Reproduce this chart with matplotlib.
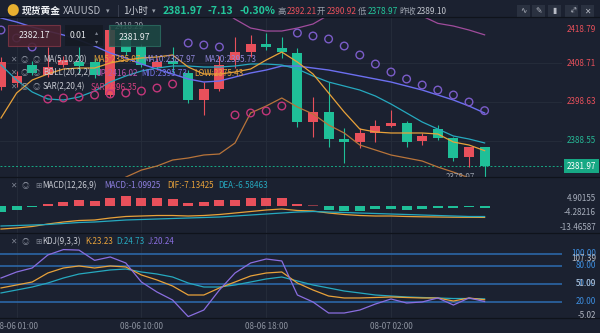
import matplotlib
matplotlib.use("Agg")
import matplotlib.pyplot as plt
import matplotlib.transforms as mtransforms
from matplotlib.patches import Rectangle
from matplotlib.lines import Line2D

plt.rcParams['font.family'] = ['Noto Sans CJK SC', 'DejaVu Sans']

# ---------------- data: XAUUSD 1h ----------------
opens = [2402.5, 2403.5, 2408.2, 2405.6, 2408.2, 2409.0, 2409.0, 2400.4, 2415.5, 2412.9,
         2407.7, 2409.2, 2406.1, 2399.1, 2402.0, 2409.5, 2411.6, 2413.6, 2412.6, 2411.3,
         2393.4, 2396.0, 2389.0, 2388.2, 2390.6, 2392.4, 2393.1, 2388.5, 2391.6, 2389.3,
         2384.3, 2386.9]
highs = [2410.3, 2406.6, 2409.2, 2412.9, 2410.5, 2412.9, 2410.0, 2418.29, 2417.0, 2413.6,
         2410.0, 2412.9, 2406.9, 2403.8, 2410.5, 2415.5, 2416.0, 2416.5, 2415.5, 2412.6,
         2399.9, 2403.8, 2391.8, 2391.8, 2393.9, 2396.5, 2393.7, 2390.5, 2392.6, 2389.5,
         2387.0, 2387.0]
lows = [2401.8, 2402.6, 2405.5, 2405.0, 2407.6, 2406.1, 2404.8, 2399.9, 2410.8, 2407.6,
        2407.0, 2406.1, 2398.3, 2395.2, 2401.4, 2407.4, 2410.3, 2412.1, 2410.0, 2392.1,
        2389.5, 2386.9, 2382.8, 2386.7, 2388.2, 2392.1, 2386.9, 2387.4, 2388.7, 2383.3,
        2381.7, 2378.97]
closes = [2409.0, 2405.3, 2406.1, 2407.7, 2409.5, 2407.9, 2405.6, 2417.3, 2411.6, 2408.2,
          2409.0, 2408.5, 2399.1, 2402.0, 2408.2, 2411.6, 2413.6, 2412.9, 2411.6, 2393.4,
          2396.0, 2389.0, 2388.2, 2390.6, 2392.4, 2393.1, 2388.2, 2389.8, 2389.3, 2384.1,
          2386.9, 2381.97]

ma5 = [2394.44, 2400.93, 2404.30, 2405.86, 2407.15, 2407.41, 2407.41, 2408.71, 2409.49, 2410.01,
       2410.27, 2410.79, 2407.67, 2405.86, 2405.86, 2406.37, 2407.15, 2409.49, 2411.56, 2408.97,
       2405.86, 2400.93, 2396.00, 2391.58, 2390.81, 2390.55, 2390.55, 2390.55, 2390.29, 2388.21,
       2387.43, 2385.97]
ma10 = [2408.19, 2404.30, 2401.19, 2399.37, 2399.11, 2399.89, 2401.44, 2403.78, 2405.34, 2406.63,
        2407.41, 2407.93, 2407.93, 2407.67, 2407.67, 2407.93, 2408.45, 2408.45, 2408.19, 2407.15,
        2405.34, 2403.78, 2402.74, 2401.70, 2400.15, 2398.07, 2395.74, 2393.40, 2391.58, 2389.77,
        2388.99, 2387.97]
ma20 = [2420.39, 2419.35, 2418.05, 2417.01, 2415.98, 2414.68, 2413.12, 2411.30, 2410.01, 2408.45,
        2407.15, 2405.86, 2404.56, 2403.78, 2404.04, 2405.08, 2406.12, 2406.89, 2407.93, 2407.93,
        2407.41, 2406.89, 2406.12, 2405.34, 2404.56, 2403.78, 2402.74, 2401.70, 2400.41, 2399.11,
        2397.55, 2395.73]
boll_up = [2466.0, 2465.0, 2462.0, 2460.0, 2457.0, 2454.0, 2450.0, 2445.0, 2441.0, 2436.0,
           2432.0, 2428.0, 2425.0, 2423.0, 2422.9, 2420.1, 2417.79, 2417.01, 2417.01, 2417.79,
           2418.83, 2421.16, 2422.0, 2422.5, 2422.5, 2422.0, 2421.3, 2420.9, 2419.0, 2418.31,
           2417.27, 2416.02]
boll_low = [2370.0, 2370.6, 2371.2, 2372.0, 2372.8, 2373.6, 2374.6, 2377.0, 2379.1, 2380.93,
            2381.98, 2383.54, 2384.06, 2384.84, 2385.10, 2387.95, 2395.74, 2397.55, 2399.63, 2397.29,
            2395.48, 2392.62, 2390.55, 2387.43, 2386.14, 2384.84, 2384.06, 2383.28, 2381.72, 2380.40,
            2378.90, 2375.43]
sar = [2417.27, 2415.20, 2412.86, 2399.37, 2399.63, 2399.89, 2400.41, 2400.67, 2400.93, 2401.44,
       2402.22, 2403.26, 2413.90, 2413.38, 2412.86, 2395.22, 2395.74, 2396.25, 2397.55, 2416.49,
       2415.72, 2414.94, 2413.12, 2410.79, 2408.45, 2406.37, 2404.56, 2403.00, 2401.70, 2400.41,
       2398.59, 2396.35]

macd_hist = [-3.8, -2.2, -0.9, 1.25, 2.7, 3.6, 3.1, 5.2, 6.3, 5.2, 4.8, 4.2, 2.1, 2.3, 3.6, 3.6,
             4.8, 4.8, 4.8, 1.4, 0.6, -2.2, -3.1, -3.1, -2.1, -2.1, -2.2, -1.6, -1.4, -1.3, -0.8,
             -1.09925]
dif = [-14.4, -13.75, -12.81, -11.25, -10.0, -9.06, -8.75, -7.5, -6.56, -6.25, -5.94, -5.94,
       -6.25, -5.94, -5.31, -4.38, -3.44, -2.5, -1.88, -2.81, -3.13, -4.38, -5.31, -5.94, -6.25,
       -6.25, -6.56, -6.75, -6.88, -7.0, -7.06, -7.13425]
dea = [-12.5, -12.19, -11.88, -11.56, -10.94, -10.31, -10.0, -9.38, -8.75, -8.44, -8.13, -7.81,
       -7.5, -7.19, -6.88, -6.25, -5.63, -5.0, -4.38, -3.75, -3.44, -3.75, -4.06, -4.38, -4.69,
       -5.0, -5.31, -5.63, -5.94, -6.25, -6.56, -6.58463]

k_line = [43.0, 48.0, 53.0, 68.1, 76.5, 79.9, 76.5, 79.9, 78.2, 64.8, 56.4, 46.3, 31.2, 31.2,
          43.0, 53.0, 63.1, 68.1, 69.8, 51.3, 39.6, 29.5, 26.2, 26.2, 27.0, 27.9, 27.0, 26.2,
          26.2, 21.1, 26.2, 23.23]
d_line = [34.6, 39.6, 44.6, 51.3, 59.7, 66.4, 69.8, 73.2, 74.8, 69.8, 66.4, 61.4, 51.3, 44.6,
          44.6, 48.0, 53.0, 58.1, 61.4, 54.7, 48.0, 43.0, 37.9, 34.6, 31.2, 29.5, 27.9, 27.0,
          26.2, 25.3, 25.3, 24.73]
j_line = [59.7, 69.8, 76.5, 98.3, 107.39, 106.5, 89.3, 95.0, 84.9, 53.0, 36.2, 22.8, -5.02, 6.0,
          39.6, 68.1, 84.9, 91.6, 88.3, 31.2, 19.5, 1.0, 1.0, 6.0, 16.1, 24.5, 17.8, 19.5, 26.2,
          14.4, 26.2, 20.24]

time_ticks = [1, 9, 17, 25]
time_labels = ["08-06 01:00", "08-06 10:00", "08-06 18:00", "08-07 02:00"]
price_ticks = [2418.79, 2408.71, 2398.63, 2388.55]
macd_ticks = [4.90155, -4.28216, -13.46587]
kdj_levels = [100, 80, 50, 20]
prev_close = 2389.10

# ---------------- style ----------------
W, H = 600, 333
BG = "#1b2130"
GRID = "#262d3b"
SEP = "#0f131b"
RED = "#e8505b"
GREEN = "#1fbf98"
ORANGE = "#e8a23a"
TEAL = "#26a9bf"
BLUE = "#6c6ff0"
MAGENTA = "#a04c9c"
BROWN = "#b8743a"
PURPLE = "#8a6ee0"
SAR_DN = "#7b5cc8"
SAR_UP = "#c2367a"
TXT = "#c9ccd4"
GRAY = "#8d93a0"
FS = 5.8

fig = plt.figure(figsize=(W / 100, H / 100), dpi=100, facecolor=BG)


def rect(x0, y0, x1, y1):
    return [x0 / W, 1 - y1 / H, (x1 - x0) / W, (y1 - y0) / H]


def ftext(x, y, s, color=TXT, size=FS, **kw):
    kw.setdefault("va", "center")
    fig.text(x / W, 1 - y / H, s, color=color, fontsize=size, **kw)


PLOT_R = 562
X0, XSTEP = 1.0, 15.6
xlim = ((0 - X0) / XSTEP, (PLOT_R - X0) / XSTEP)

ax_p = fig.add_axes(rect(0, 17, PLOT_R, 177))
ax_m = fig.add_axes(rect(0, 177, PLOT_R, 233))
ax_k = fig.add_axes(rect(0, 233, PLOT_R, 318))
for ax in (ax_p, ax_m, ax_k):
    ax.set_facecolor(BG)
    ax.set_xlim(*xlim)
    for sp in ax.spines.values():
        sp.set_visible(False)
    ax.tick_params(left=False, right=False, bottom=False, top=False,
                   labelleft=False, labelbottom=False)
    for t in time_ticks:
        ax.axvline(t, color=GRID, lw=0.6, zorder=0)

ax_p.set_ylim(2379.13, 2420.65)
ax_m.set_ylim(-16.875, 18.125)
ax_k.set_ylim(-7.38, 135.2)

xs = list(range(len(closes)))


def right_label(ax, y, s, color, dy=0.0, bbox=None):
    tr = mtransforms.blended_transform_factory(fig.transFigure, ax.transData)
    tr = tr + mtransforms.ScaledTranslation(0, -dy / 100, fig.dpi_scale_trans)
    ax.text(596 / W, y, s, transform=tr, ha="right", va="center", color=color,
            fontsize=FS, clip_on=False, bbox=bbox)


# ---------------- price panel ----------------
for p in price_ticks[1:]:
    ax_p.axhline(p, color=GRID, lw=0.6, zorder=0)

for i in xs:
    o, h, l, c = opens[i], highs[i], lows[i], closes[i]
    col = RED if c >= o else GREEN
    ax_p.vlines(i, l, h, color=col, lw=0.8, zorder=3)
    body = max(abs(c - o), 0.3)
    ax_p.add_patch(Rectangle((i - 0.32, min(o, c)), 0.64, body, color=col, zorder=4, lw=0))

ax_p.plot(xs, boll_up, color=MAGENTA, lw=0.9, zorder=5)
ax_p.plot(xs, boll_low, color=BROWN, lw=0.9, zorder=5)
ax_p.plot(xs, ma20, color=BLUE, lw=1.0, zorder=5)
ax_p.plot(xs, ma10, color=TEAL, lw=0.9, zorder=5)
ax_p.plot(xs, ma5, color=ORANGE, lw=0.9, zorder=5)

sar_cols = [SAR_DN if s > c else SAR_UP for s, c in zip(sar, closes)]
ax_p.scatter(xs, sar, s=30, facecolors="none", edgecolors=sar_cols, linewidths=1.0, zorder=6)

ax_p.axhline(closes[-1], color="#17a884", lw=0.7, ls=(0, (2, 2)), zorder=2)

i_hi = highs.index(max(highs))
ax_p.annotate(f"{highs[i_hi]:.2f}", xy=(i_hi, highs[i_hi]), xytext=(3, 0),
              textcoords="offset points", ha="left", va="center", color="#9aa0ab",
              fontsize=FS, zorder=7)
i_lo = lows.index(min(lows))
ax_p.annotate(f"{lows[i_lo]:.2f}", xy=(i_lo, lows[i_lo]), xytext=(-7, 0),
              textcoords="offset points", ha="right", va="center", color="#9aa0ab",
              fontsize=FS, zorder=7, annotation_clip=False, clip_on=True)
ax_p.plot([i_lo - 0.45, i_lo - 0.05], [lows[i_lo]] * 2, color="#9aa0ab", lw=0.6, zorder=7)

for k, p in enumerate(price_ticks):
    col = RED if p > prev_close else "#26b896"
    right_label(ax_p, p, f"{p:.2f}", col, dy=(5 if k == 0 else 0))
right_label(ax_p, closes[-1], f"{closes[-1]:.2f}", "white",
            bbox=dict(boxstyle="square,pad=0.35", fc="#17a884", ec="none"))

# ---------------- MACD panel ----------------
hist_cols = []
for i, v in enumerate(macd_hist):
    if v >= 0:
        hist_cols.append("#8b3a46" if (i > 0 and v < 1.0 and macd_hist[i - 1] > v) else RED)
    else:
        hist_cols.append(GREEN)
ax_m.bar(xs, macd_hist, width=0.64, color=hist_cols, zorder=3)
ax_m.plot(xs, dif, color=ORANGE, lw=0.9, zorder=4)
ax_m.plot(xs, dea, color=TEAL, lw=0.9, zorder=4)
for v in macd_ticks:
    right_label(ax_m, v, f"{v:.5f}", "#a8afbd")

# ---------------- KDJ panel ----------------
for v in kdj_levels:
    ax_k.axhline(v, color="#2c6cb0", lw=1.1, zorder=2)
    right_label(ax_k, v, f"{v:.2f}", "#3d8ee0")
right_label(ax_k, 100, f"{max(j_line):.2f}", "#b5bac4", dy=4.5)
right_label(ax_k, 50, "51.09", "#b5bac4")
right_label(ax_k, 20, f"{min(j_line):.2f}", "#b5bac4", dy=14)
ax_k.plot(xs, d_line, color=TEAL, lw=0.9, zorder=4)
ax_k.plot(xs, k_line, color=ORANGE, lw=0.9, zorder=5)
ax_k.plot(xs, j_line, color=PURPLE, lw=0.9, zorder=6)

ax_k.set_xticks(time_ticks)
ax_k.set_xticklabels(time_labels)
ax_k.tick_params(labelbottom=True, length=0, pad=3, labelsize=FS, labelcolor=GRAY)

# ---------------- separators ----------------
for yy in (17, 177, 233, 318):
    fig.add_artist(Line2D([0, 1], [1 - yy / H] * 2, transform=fig.transFigure,
                          color=SEP, lw=0.9))

# ---------------- header ----------------
ftext(13, 11, "●", color="#e8b030", size=9, ha="center")
ftext(22, 11, "现货黄金", color="#eef0f4", size=7, weight="bold")
ftext(63, 11, "XAUUSD", color="#b8bcc6", size=7)
ftext(106, 11, "▾", color="#9aa0ab", size=5)
ftext(117, 11, "|", color="#4a5060", size=7)
ftext(123, 11, "1小时", color="#c8ccd4", size=7)
ftext(152, 11, "▾", color="#9aa0ab", size=5)
ftext(163, 11, "2381.97", color="#23c79b", size=7.5, weight="bold")
ftext(208, 11, "-7.13", color="#23c79b", size=7.5, weight="bold")
ftext(240, 11, "-0.30%", color="#23c79b", size=7.5, weight="bold")
ftext(277, 11.5, "高", color="#9aa0ab", size=6)
ftext(287, 11.5, "2392.21", color=RED, size=6)
ftext(317, 11.5, "开", color="#9aa0ab", size=6)
ftext(327, 11.5, "2390.92", color=RED, size=6)
ftext(358, 11.5, "低", color="#9aa0ab", size=6)
ftext(368, 11.5, "2378.97", color="#23c79b", size=6)
ftext(399, 11.5, "昨收", color="#9aa0ab", size=6)
ftext(417, 11.5, "2389.10", color="#c0c4cc", size=6)

for x0, g, rot in zip([517, 532, 548, 565, 581], ["∿", "✎", "▮", "↕", "✕"], [0, 0, 0, -45, 0]):
    fig.add_artist(Rectangle((x0 / W, 1 - 18 / H), 13 / W, 13 / H, transform=fig.transFigure,
                             fc="#2a3140", ec="none"))
    ftext(x0 + 6.5, 11.5, g, color="#b8bcc6", size=5.5, ha="center", rotation=rot,
          rotation_mode="anchor")

# trading widgets
fig.add_artist(Rectangle((8 / W, 1 - 46 / H), 52 / W, 21 / H, transform=fig.transFigure,
                         fc="#4a2330", ec="#7a3444", lw=0.8, alpha=0.9))
ftext(34, 36, "2382.17", color="#e6e8ec", size=6.3, ha="center")
fig.add_artist(Rectangle((65 / W, 1 - 46 / H), 38 / W, 21 / H, transform=fig.transFigure,
                         fc="#151a24", ec="none", alpha=0.95))
ftext(70, 36, "0.01", color="#e6e8ec", size=6.3)
ftext(97, 32, "▴", color="#7d8391", size=4.5, ha="center")
ftext(97, 41, "▾", color="#7d8391", size=4.5, ha="center")
fig.add_artist(Rectangle((109 / W, 1 - 46 / H), 51 / W, 21 / H, transform=fig.transFigure,
                         fc="#1d4a45", ec="#2b6b5f", lw=0.8, alpha=0.85))
ftext(134, 38, "2381.97", color="#e6e8ec", size=6.3, ha="center")

# indicator legends
ICON = "#7d8391"
for yy, name, items in [
    (60, "MA(5,10,20)", [(93, f"MA5:{ma5[-1]:.2f}", ORANGE), (143, f"MA10:{ma10[-1]:.2f}", "#8f86d8"),
                         (204, f"MA20:{ma20[-1]:.2f}", "#8f86d8")]),
    (73, "BOLL(20,2,2)", [(95, f"UP:{boll_up[-1]:.2f}", "#b855b0"), (141, f"MID:{ma20[-1]:.2f}", "#7473e6"),
                          (194, f"LOW:{boll_low[-1]:.2f}", ORANGE)]),
    (87, "SAR(2,20,4)", [(91, f"SAR:{sar[-1]:.2f}", "#d0407e")]),
]:
    ftext(13, yy, "✕", color=ICON, size=5.5, ha="center")
    ftext(24, yy, "◎", color=ICON, size=5.5, ha="center")
    ftext(36, yy, "◎", color=ICON, size=5.5, ha="center")
    ftext(43, yy, name, color=TXT)
    for x, s, c in items:
        ftext(x, yy, s, color=c)

for yy, name, items in [
    (186, "MACD(12,26,9)", [(104, f"MACD:{macd_hist[-1]:.5f}", "#8e7fe0"), (167, f"DIF:{dif[-1]:.5f}", ORANGE),
                            (218, f"DEA:{dea[-1]:.5f}", TEAL)]),
    (242, "KDJ(9,3,3)", [(85, f"K:{k_line[-1]:.2f}", ORANGE), (116, f"D:{d_line[-1]:.2f}", TEAL),
                         (148, f"J:{j_line[-1]:.2f}", PURPLE)]),
]:
    ftext(13, yy, "✕", color=ICON, size=5.5, ha="center")
    ftext(25, yy, "◎", color=ICON, size=5.5, ha="center")
    ftext(38, yy, "⊞", color=ICON, size=5.5, ha="center")
    ftext(42, yy, name, color=TXT)
    for x, s, c in items:
        ftext(x, yy, s, color=c)

fig.savefig("out.png", dpi=100, facecolor=BG)
